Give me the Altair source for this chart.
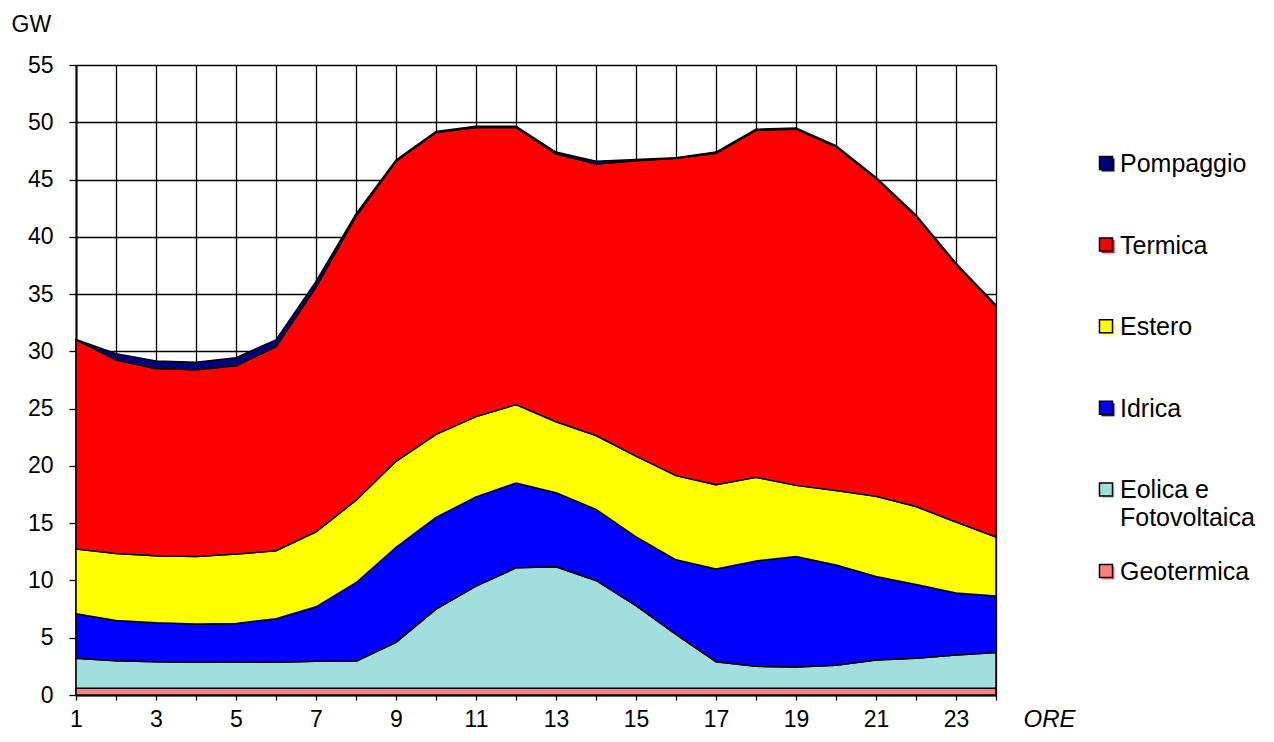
import altair as alt
import pandas as pd

ore = list(range(1, 25))

serie = ["Pompaggio", "Termica", "Estero", "Idrica", "Eolica e Fotovoltaica", "Geotermica"]
etichette = ["Pompaggio", "Termica", "Estero", "Idrica", "Eolica e\nFotovoltaica", "Geotermica"]
colori = ["#000080", "#FF0000", "#FFFF00", "#0000FF", "#A3DEDF", "#FF7F7F"]

geotermica = [0.6, 0.6, 0.6, 0.6, 0.6, 0.6, 0.6, 0.6, 0.6, 0.6, 0.6, 0.6,
              0.6, 0.6, 0.6, 0.6, 0.6, 0.6, 0.6, 0.6, 0.6, 0.6, 0.6, 0.6]
eolica_fv = [2.6, 2.4, 2.3, 2.25, 2.3, 2.25, 2.35, 2.35, 4.0, 6.9, 8.9, 10.5,
             10.6, 9.4, 7.2, 4.7, 2.3, 1.9, 1.85, 2.0, 2.45, 2.6, 2.9, 3.1]
idrica = [3.9, 3.5, 3.4, 3.35, 3.35, 3.8, 4.75, 6.85, 8.3, 8.0, 7.8, 7.4,
          6.45, 6.2, 6.0, 6.5, 8.1, 9.2, 9.65, 8.75, 7.3, 6.45, 5.4, 4.95]
estero = [5.65, 5.85, 5.85, 5.9, 6.05, 5.95, 6.55, 7.2, 7.5, 7.25, 7.0, 6.85,
          6.2, 6.45, 7.05, 7.35, 7.35, 7.3, 6.2, 6.5, 7.0, 6.8, 6.2, 5.15]
termica = [18.25, 16.9, 16.35, 16.3, 16.45, 17.8, 21.35, 24.8, 26.2, 26.35, 25.25, 24.2,
           23.4, 23.7, 25.8, 27.7, 28.95, 30.3, 31.1, 30.0, 27.75, 25.35, 22.5, 20.15]
pompaggio = [0.05, 0.55, 0.65, 0.65, 0.7, 0.6, 0.5, 0.2, 0.1, 0.1, 0.1, 0.1,
             0.15, 0.25, 0.1, 0.05, 0.1, 0.1, 0.1, 0.1, 0.1, 0.1, 0.1, 0.1]

valori = {
    "Geotermica": geotermica,
    "Eolica e Fotovoltaica": eolica_fv,
    "Idrica": idrica,
    "Estero": estero,
    "Termica": termica,
    "Pompaggio": pompaggio,
}
ordine_stack = ["Geotermica", "Eolica e Fotovoltaica", "Idrica", "Estero", "Termica", "Pompaggio"]

rows = []
for k, nome in enumerate(ordine_stack):
    for h, v in zip(ore, valori[nome]):
        rows.append({"ora": h, "fonte": nome, "gw": v, "ordine": k})
df = pd.DataFrame(rows)

leg = pd.DataFrame({"fonte": serie, "testo": etichette})

FONT = "Liberation Sans"
color_scale = alt.Scale(domain=serie, range=colori)

aree = alt.Chart(df).mark_area(
    stroke="black", strokeWidth=1.5, interpolate="linear"
).encode(
    x=alt.X(
        "ora:Q",
        scale=alt.Scale(domain=[1, 24], nice=False, zero=False),
        axis=alt.Axis(
            values=ore,
            labelExpr="datum.value % 2 == 1 ? datum.label : ''",
            labelOverlap=False,
            labelFlush=False,
            grid=True, gridColor="black", gridWidth=1.3, gridOpacity=1,
            domainColor="black", domainWidth=2,
            tickColor="black", tickSize=5, tickWidth=1.3,
            labelFontSize=23, labelFont=FONT, labelColor="black", labelPadding=8,
            title="ORE", titleFont=FONT, titleFontSize=24, titleFontStyle="italic",
            titleFontWeight="normal", titleColor="black",
            titleX=947, titleY=24, titleAlign="left", titleBaseline="middle",
        ),
    ),
    y=alt.Y(
        "gw:Q",
        stack="zero",
        scale=alt.Scale(domain=[0, 55], nice=False),
        axis=alt.Axis(
            values=list(range(0, 56, 5)),
            grid=True, gridColor="black", gridWidth=1.3, gridOpacity=1,
            domainColor="black", domainWidth=2,
            tickColor="black", tickSize=7, tickWidth=1.3,
            labelFontSize=23, labelFont=FONT, labelColor="black", labelPadding=16,
            title="GW", titleFont=FONT, titleFontSize=23, titleFontWeight="normal",
            titleColor="black", titleAngle=0,
            titleX=-65, titleY=-41, titleAlign="left", titleBaseline="middle",
        ),
    ),
    color=alt.Color("fonte:N", scale=color_scale, legend=None),
    order=alt.Order("ordine:Q", sort="ascending"),
)

leg_y = alt.Y("fonte:N", scale=alt.Scale(domain=serie, range=[98, 506], padding=0), axis=None)

ombra = alt.Chart(leg).mark_square(size=170, opacity=1, xOffset=2, yOffset=2).encode(
    x=alt.value(1030),
    y=leg_y,
    color=alt.Color("fonte:N", scale=color_scale, legend=None),
)
simboli = alt.Chart(leg).mark_square(
    size=170, opacity=1, stroke="black", strokeWidth=1.5
).encode(
    x=alt.value(1030),
    y=leg_y,
    color=alt.Color("fonte:N", scale=color_scale, legend=None),
)
testi = alt.Chart(leg).mark_text(
    align="left", baseline="top", dy=-11, fontSize=25, font=FONT,
    color="black", lineBreak="\n", lineHeight=28,
).encode(
    x=alt.value(1044),
    y=leg_y,
    text="testo:N",
)

chart = alt.layer(aree, ombra, simboli, testi).resolve_scale(
    y="independent"
).properties(
    width=920,
    height=630,
    autosize=alt.AutoSizeParams(type="none"),
    padding={"left": 68, "top": 57, "right": 266, "bottom": 37},
).configure_view(
    stroke=None
).configure(
    font=FONT, background="white"
)

chart.save("out.html", embed_options={"renderer": "svg", "actions": False})
